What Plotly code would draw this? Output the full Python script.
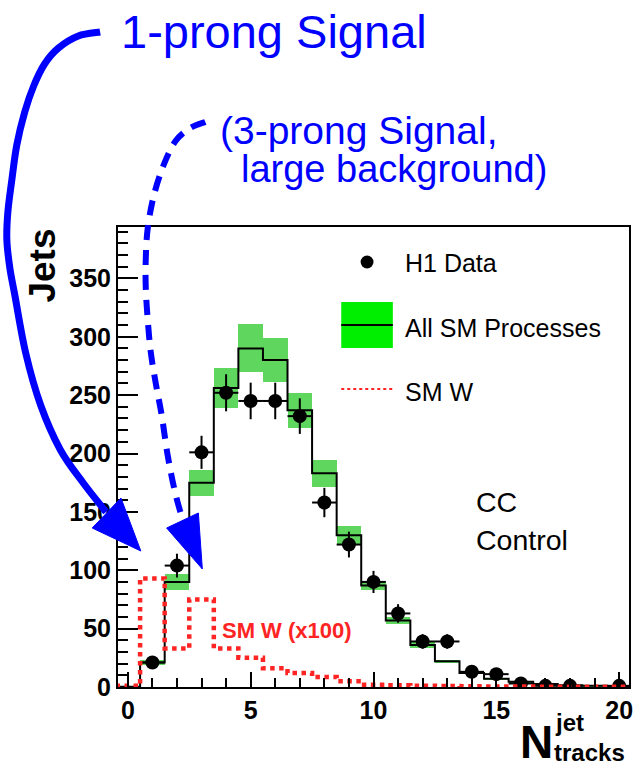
import numpy as np
import plotly.graph_objects as go

# ---- histogram content (bin centres 0..20, unit width) ----
bin_centers = list(range(0, 21))

# All SM processes prediction and its uncertainty
sm_all = [0.3, 21, 90, 175, 256, 290, 280, 237, 183, 130, 87, 57, 36, 22, 12, 7, 4.5, 2.5, 1.5, 1.0, 0.5]
sm_all_err = [0.1, 2, 6.5, 11, 17, 20.5, 19, 15, 11.5, 8, 4, 3, 2.5, 1.5, 1, 0.7, 0.5, 0.3, 0.2, 0.15, 0.1]

# SM W contribution, scaled by 100
sm_w_x100 = [1.0, 93, 33, 75, 33, 25, 16, 12, 8.5, 5, 2, 1.5, 1.0, 0.8, 0.6, 0.5, 0.4, 0.3, 0.3, 0.2, 0.2]

# H1 data (bins with entries)
data_x = [1, 2, 3, 4, 5, 6, 7, 8, 9, 10, 11, 12, 13, 14, 15, 16, 17, 18, 20]
data_y = [21, 104, 201, 252, 245, 245, 232, 158, 122, 90, 63, 39, 39, 13, 11, 3, 1, 1, 1]

x_ticks = [0, 5, 10, 15, 20]
y_ticks = [0, 50, 100, 150, 200, 250, 300, 350]

X_RANGE = [-0.4, 20.4]
Y_RANGE = [0, 394]

# figure geometry (pixels)
W, H = 639, 770
L, R, T, B = 118, 6, 227, 83
PW, PH = W - L - R, H - T - B

FONT = "Liberation Sans, Arial, Helvetica, sans-serif"
BLUE = "#0000ff"
RED = "#ff2424"


def px(x, y):
    """pixel position -> paper coordinates"""
    return (x - L) / PW, (H - B - y) / PH


def step_xy(values):
    edges = [c - 0.5 for c in bin_centers] + [bin_centers[-1] + 0.5]
    return edges, list(values) + [values[-1]]


def smooth_path(points):
    """Catmull-Rom spline through pixel points, as an SVG path in paper coords."""
    p = [np.array(q, dtype=float) for q in points]
    p = [p[0]] + p + [p[-1]]
    x0, y0 = px(*p[1])
    d = f"M {x0:.5f},{y0:.5f}"
    for i in range(1, len(p) - 2):
        c1 = p[i] + (p[i + 1] - p[i - 1]) / 6.0
        c2 = p[i + 1] - (p[i + 2] - p[i]) / 6.0
        e = p[i + 1]
        a, b, c = px(*c1), px(*c2), px(*e)
        d += f" C {a[0]:.5f},{a[1]:.5f} {b[0]:.5f},{b[1]:.5f} {c[0]:.5f},{c[1]:.5f}"
    return d


def poly_path(points):
    pts = [px(*q) for q in points]
    return "M " + " L ".join(f"{a:.5f},{b:.5f}" for a, b in pts) + " Z"


def label(text, x, y, size, color="black", xanchor="left", weight="normal", angle=0):
    p = px(x, y)
    return dict(text=text, x=p[0], y=p[1], xref="paper", yref="paper", xanchor=xanchor,
                yanchor="middle", showarrow=False, textangle=angle,
                font=dict(family=FONT, size=size, color=color, weight=weight))


fig = go.Figure()

# uncertainty band of the SM prediction
lo = [m - e for m, e in zip(sm_all, sm_all_err)]
fig.add_trace(go.Bar(
    x=bin_centers, y=[2 * e for e in sm_all_err], base=lo, width=1.0,
    marker=dict(color="#5fd75f", line=dict(width=0)), showlegend=False,
))

# SM prediction (black step line)
sx, sy = step_xy(sm_all)
fig.add_trace(go.Scatter(
    x=sx, y=sy, mode="lines", line=dict(color="black", width=2, shape="hv"),
    showlegend=False,
))

# data points with errors
fig.add_trace(go.Scatter(
    x=data_x, y=data_y, mode="markers",
    marker=dict(color="black", size=14),
    error_y=dict(type="data", array=[np.sqrt(v) for v in data_y], thickness=2, width=0, color="black"),
    error_x=dict(type="constant", value=0.5, thickness=2, width=0, color="black"),
    showlegend=False,
))

# SM W x100 (red dotted step line)
wx, wy = step_xy(sm_w_x100)
fig.add_trace(go.Scatter(
    x=wx, y=wy, mode="lines", line=dict(color=RED, width=4.5, shape="hv", dash="dot"),
    showlegend=False,
))

shapes = []
annotations = []

# ---- legend ----
cx, cy = 369, 262
a0 = px(cx - 6.5, cy + 6.5)
a1 = px(cx + 6.5, cy - 6.5)
shapes.append(dict(type="circle", xref="paper", yref="paper", x0=a0[0], y0=a0[1], x1=a1[0], y1=a1[1],
                   fillcolor="black", line=dict(width=0)))
b0 = px(343, 348)
b1 = px(395, 302)
shapes.append(dict(type="rect", xref="paper", yref="paper", x0=b0[0], y0=b0[1], x1=b1[0], y1=b1[1],
                   fillcolor="#00ee00", line=dict(width=0)))
l0 = px(343, 325)
l1 = px(395, 325)
shapes.append(dict(type="line", xref="paper", yref="paper", x0=l0[0], y0=l0[1], x1=l1[0], y1=l1[1],
                   line=dict(color="black", width=2)))
r0 = px(343, 389)
r1 = px(395, 389)
shapes.append(dict(type="line", xref="paper", yref="paper", x0=r0[0], y0=r0[1], x1=r1[0], y1=r1[1],
                   line=dict(color=RED, width=2, dash="dot")))

annotations.append(label("H1 Data", 405, 263, 25))
annotations.append(label("All SM Processes", 405, 328, 25))
annotations.append(label("SM W", 405, 392, 25))

# ---- in-plot labels ----
annotations.append(label("CC", 477, 502, 28.5))
annotations.append(label("Control", 477, 540, 28.5))
annotations.append(label("SM W (x100)", 288, 630, 22, color=RED, xanchor="center", weight="bold"))

# ---- axis titles ----
annotations.append(label("Jets", 41, 266, 37, xanchor="center", weight="bold", angle=-90))
annotations.append(label("N", 558, 742, 46, xanchor="right", weight="bold"))
annotations.append(label("jet", 556, 722, 24, weight="bold"))
annotations.append(label("tracks", 555, 752, 24, weight="bold"))

# ---- signal callouts ----
annotations.append(label("1-prong Signal", 119, 31, 47, color=BLUE))
annotations.append(label("(3-prong Signal,", 219, 130, 39, color=BLUE))
annotations.append(label("large background)", 240, 169, 38, color=BLUE))

solid_pts = [(100, 32), (78, 36), (58, 48), (44, 64), (33, 86), (24, 112), (16, 145), (11, 180),
             (7, 212), (6, 240), (9, 268), (14, 295), (25, 353), (40, 405), (60, 450), (83, 483), (106, 512)]
shapes.append(dict(type="path", xref="paper", yref="paper", path=smooth_path(solid_pts),
                   line=dict(color=BLUE, width=7)))
shapes.append(dict(type="path", xref="paper", yref="paper",
                   path=poly_path([(92, 528), (121, 498), (141, 551)]),
                   fillcolor=BLUE, line=dict(color=BLUE, width=1)))

dashed_pts = [(206, 122), (191, 128), (176, 141), (164, 165), (154, 196), (148, 228), (146, 258),
              (146, 288), (148, 320), (151, 352), (156, 383), (162, 415), (168, 455), (175, 490), (182, 516)]
shapes.append(dict(type="path", xref="paper", yref="paper", path=smooth_path(dashed_pts),
                   line=dict(color=BLUE, width=6, dash="15px,10px")))
shapes.append(dict(type="path", xref="paper", yref="paper",
                   path=poly_path([(167, 528), (199, 513), (203, 569)]),
                   fillcolor=BLUE, line=dict(color=BLUE, width=1)))

fig.update_layout(
    width=W, height=H,
    margin=dict(l=L, r=R, t=T, b=B, pad=0),
    paper_bgcolor="white", plot_bgcolor="white",
    showlegend=False, bargap=0,
    shapes=shapes, annotations=annotations,
    font=dict(family=FONT),
)

fig.update_xaxes(
    range=X_RANGE, tickvals=x_ticks, ticktext=[str(v) for v in x_ticks],
    ticks="inside", ticklen=15, tickwidth=1.5, tickcolor="black",
    minor=dict(dtick=1, tick0=0, ticks="inside", ticklen=9, tickwidth=1.5, tickcolor="black"),
    showline=True, linecolor="black", linewidth=2, mirror=True,
    showgrid=False, zeroline=False,
    tickfont=dict(family=FONT, size=25, color="black", weight="bold"),
)
fig.update_yaxes(
    range=Y_RANGE, tickvals=y_ticks, ticktext=[str(v) for v in y_ticks],
    ticks="inside", ticklen=20, tickwidth=1.5, tickcolor="black",
    minor=dict(dtick=10, tick0=0, ticks="inside", ticklen=10, tickwidth=1.5, tickcolor="black"),
    showline=True, linecolor="black", linewidth=2, mirror=True,
    showgrid=False, zeroline=False,
    tickfont=dict(family=FONT, size=25, color="black", weight="bold"),
)

fig.write_html("out.html")
